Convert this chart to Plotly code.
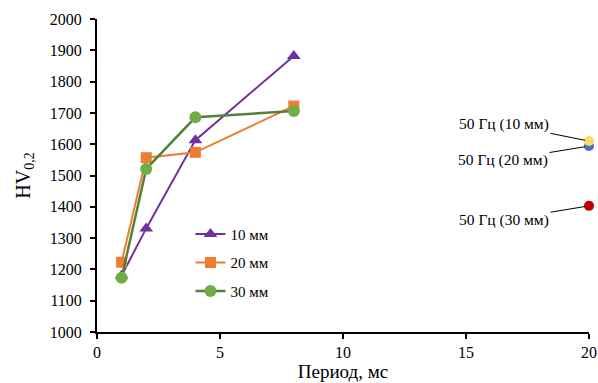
import plotly.graph_objects as go

periods = [1, 2, 4, 8]
hv_10 = [1180, 1331, 1613, 1882]
hv_20 = [1223, 1557, 1574, 1722]
hv_30 = [1173, 1521, 1686, 1706]

single_x = [20, 20, 20]
single_y = [1610, 1594, 1403]
single_labels = ["50 Гц (10 мм)", "50 Гц (20 мм)", "50 Гц (30 мм)"]
single_colors = ["#FFD966", "#4472C4", "#C00000"]

font_family = "Liberation Serif"

fig = go.Figure()
fig.add_trace(go.Scatter(x=periods, y=hv_10, name="10 мм", mode="lines+markers",
                         line=dict(color="#7030A0", width=2),
                         marker=dict(symbol="triangle-up", size=12, color="#7030A0"),
                         legendgroup="a"))
fig.add_trace(go.Scatter(x=periods, y=hv_20, name="20 мм", mode="lines+markers",
                         line=dict(color="#ED7D31", width=2),
                         marker=dict(symbol="square", size=11, color="#ED7D31"),
                         legendgroup="b"))
fig.add_trace(go.Scatter(x=periods, y=hv_30, name="30 мм", mode="lines+markers",
                         line=dict(color="#548235", width=2.5),
                         marker=dict(symbol="circle", size=12, color="#70AD47"),
                         legendgroup="c"))

order = [1, 2, 0]
for i in order:
    fig.add_trace(go.Scatter(x=[single_x[i]], y=[single_y[i]], mode="markers",
                             marker=dict(size=10, color=single_colors[i]),
                             showlegend=False, cliponaxis=False))

offsets = [(-85, -17), (-86, 14), (-85, 14)]
for i in range(3):
    fig.add_annotation(x=single_x[i], y=single_y[i], text=single_labels[i],
                       showarrow=True, arrowhead=0, arrowwidth=1, arrowcolor="black",
                       ax=offsets[i][0], ay=offsets[i][1], standoff=4,
                       font=dict(family=font_family, size=15.5, color="black"))

fig.update_layout(
    width=598, height=383,
    margin=dict(l=97, r=9, t=19, b=51, autoexpand=False),
    plot_bgcolor="white", paper_bgcolor="white",
    font=dict(family=font_family, size=16, color="black"),
    showlegend=True,
    legend=dict(x=0.19, y=0.365, xanchor="left", yanchor="top",
                bgcolor="rgba(0,0,0,0)", font=dict(size=15),
                tracegroupgap=6),
    xaxis=dict(range=[0, 20], tickvals=[0, 5, 10, 15, 20], showgrid=False, zeroline=False,
               showline=True, linecolor="black", linewidth=2, automargin=False,
               ticks="outside", tickcolor="black", tickwidth=2, ticklen=5,
               title=dict(text="Период, мс", font=dict(size=19), standoff=0),
               tickfont=dict(size=16)),
    yaxis=dict(range=[1000, 2000], dtick=100, showgrid=False, zeroline=False,
               showline=True, linecolor="black", linewidth=2, automargin=False,
               ticks="outside", tickcolor="black", tickwidth=2, ticklen=5,
               ticklabelstandoff=5,
               title=dict(text="HV<sub>0,2</sub>", font=dict(size=20), standoff=14),
               tickfont=dict(size=16)),
)

fig.write_html("out.html", config={"displayModeBar": False},
               post_script="document.body.style.margin='0';")
